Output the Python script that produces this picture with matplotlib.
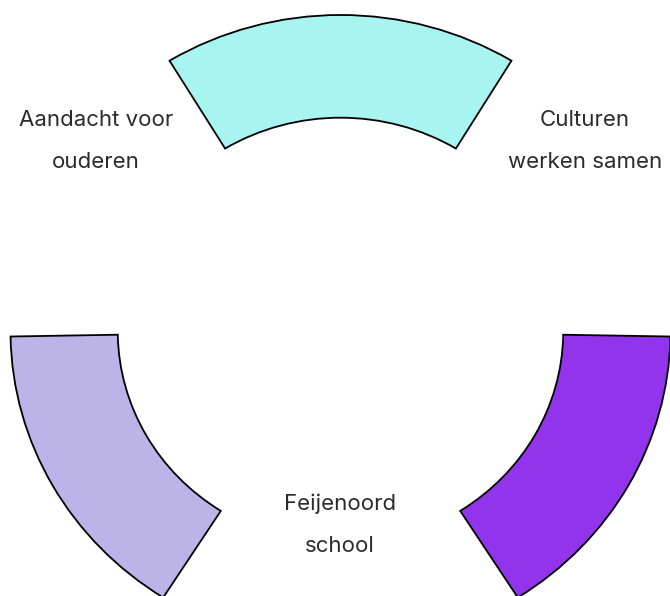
import numpy as np
import matplotlib
matplotlib.use('Agg')
import matplotlib.pyplot as plt

# segment data (angles in degrees, radii relative to outer ring)
labels = ['Aandacht voor\nouderen', 'Culturen\nwerken samen', 'Feijenoord\nschool']
seg_start = [58.8, -57.5, 181.0]
seg_end = [121.2, -1.0, 237.5]
seg_inner = [0.675, 0.675, 0.675]
seg_outer = [1.0, 1.0, 1.0]
seg_colors = ['#a8f4f1', '#9234eb', '#bcb4e8']

# label positions in figure pixels (x, y from top)
label_pos = [(96, 141), (585, 141), (340, 525)]

W, H = 670, 596
fig = plt.figure(figsize=(W / 100, H / 100), dpi=100)

# polar axes, slightly stretched horizontally like the original
cx, cy = 340.5, 331
a_out, b_out = 330, 316
ax = fig.add_axes([(cx - a_out) / W, (H - cy - b_out) / H, 2 * a_out / W, 2 * b_out / H],
                  projection='polar')
ax.set_aspect('auto')

start = np.radians(seg_start)
end = np.radians(seg_end)
inner = np.array(seg_inner)
outer = np.array(seg_outer)
bars = ax.bar((start + end) / 2, outer - inner, width=end - start, bottom=inner,
              color=seg_colors, edgecolor='black', linewidth=1.3, align='center')
for b in bars:
    b.set_clip_on(False)
ax.set_ylim(0, 1.0)
ax.axis('off')

for txt, (x, y) in zip(labels, label_pos):
    fig.text(x / W, 1 - y / H, txt, ha='center', va='center', fontsize=16,
             family=['Inter', 'DejaVu Sans'], color='#2b2b2b', linespacing=2.35)

fig.savefig('out.png', dpi=100, facecolor='white')
